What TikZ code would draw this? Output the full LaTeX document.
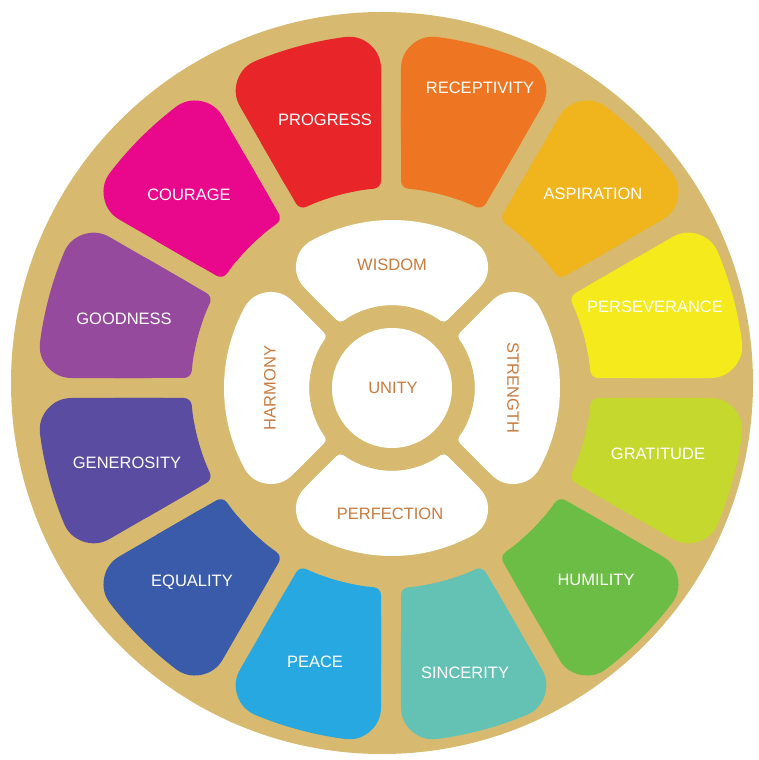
\documentclass[tikz,border=0pt]{standalone}
\usepackage{fontspec}
\setmainfont{Liberation Sans}
\definecolor{gold}{HTML}{D7BA6F}
\definecolor{innertxt}{HTML}{C97B3F}
\definecolor{cProg}{HTML}{E8262A}
\definecolor{cRece}{HTML}{EE7623}
\definecolor{cAspi}{HTML}{F0B41C}
\definecolor{cPers}{HTML}{F4EA1C}
\definecolor{cGrat}{HTML}{C4D82E}
\definecolor{cHumi}{HTML}{6CBD45}
\definecolor{cSinc}{HTML}{63C2B4}
\definecolor{cPeac}{HTML}{27A8E0}
\definecolor{cEqua}{HTML}{3A5BA9}
\definecolor{cGene}{HTML}{5A4CA0}
\definecolor{cGood}{HTML}{954A9D}
\definecolor{cCour}{HTML}{E9088B}
% one opening of an annular sector: angle, half-span, rin, rout, half-gap, rounding, colour
\newcommand\rsbody[7]{%
  \pgfmathsetmacro\rsRi{#3+#6}%
  \pgfmathsetmacro\rsRo{#4-#6}%
  \pgfmathsetmacro\rsD{#5+#6}%
  \pgfmathsetmacro\rsAi{#1-#2+asin(\rsD/\rsRi)}%
  \pgfmathsetmacro\rsAii{#1+#2-asin(\rsD/\rsRi)}%
  \pgfmathsetmacro\rsAo{#1-#2+asin(\rsD/\rsRo)}%
  \pgfmathsetmacro\rsAoo{#1+#2-asin(\rsD/\rsRo)}%
  \pgfmathsetmacro\rsLW{2*#6}%
  \filldraw[#7, line width=\rsLW pt, line join=round]
    (\rsAi:\rsRi pt) -- (\rsAo:\rsRo pt)
    arc[start angle=\rsAo, end angle=\rsAoo, radius=\rsRo pt]
    -- (\rsAii:\rsRi pt)
    arc[start angle=\rsAii, end angle=\rsAi, radius=\rsRi pt] -- cycle;
}
% angle, half-span, rin, rout, half-gap, big rounding (outer), small rounding (inner), colour
\newcommand\roundsector[8]{%
  \rsbody{#1}{#2}{#3}{#4}{#5}{#6}{#8}%
  \begin{scope}
    \pgfmathsetmacro\rsMid{(#3+#4)/2}%
    \clip (0,0) circle[radius=\rsMid pt];
    \rsbody{#1}{#2}{#3}{#4}{#5}{#7}{#8}%
  \end{scope}
}
\tikzset{
  outerlbl/.style={text=white, font=\fontsize{16.5}{18}\selectfont, inner sep=0pt},
  innerlbl/.style={text=innertxt, font=\fontsize{16.5}{18}\selectfont, inner sep=0pt}
}
\begin{document}
\begin{tikzpicture}[x=1pt,y=1pt]
\useasboundingbox (0,0) rectangle (759,760);
\fill[white] (0,0) rectangle (759,760);
% outer gold disc
\fill[gold] (382,377) circle[radius=371pt];
% coloured segments
\begin{scope}[shift={(391,372)}]
\foreach \a/\c in {105/cProg,75/cRece,45/cAspi,15/cPers,-15/cGrat,-45/cHumi,
  -75/cSinc,-105/cPeac,-135/cEqua,-165/cGene,165/cGood,135/cCour}{
  \roundsector{\a}{15}{200}{354}{10}{32}{8}{\c}
}
\end{scope}
% petals and centre
\begin{scope}[shift={(392,372)}]
\foreach \a in {90,0,180,270}{
  \roundsector{\a}{45}{83}{168}{9}{30}{5}{white}
}
\fill[white] (0,0) circle[radius=60pt];
\end{scope}
% outer labels
\foreach \t/\x/\y in {PROGRESS/325/120, RECEPTIVITY/480/88, ASPIRATION/593/194,
  PERSEVERANCE/655/307, GRATITUDE/658/454, HUMILITY/596/580, SINCERITY/465/673,
  PEACE/315/662, EQUALITY/192/582, GENEROSITY/127/463, GOODNESS/124/319, COURAGE/189/195}{
  \node[outerlbl] (l\t) at (\x,760-\y) {\t};
}
% inner labels
\node[innerlbl] (wisdom) at (392,760-265) {WISDOM};
\node[innerlbl, rotate=-90] (strength) at (513,760-388) {STRENGTH};
\node[innerlbl] (perfection) at (390,760-514) {PERFECTION};
\node[innerlbl, rotate=90] (harmony) at (270,760-388) {HARMONY};
\node[innerlbl] (unity) at (393,760-388) {UNITY};
\end{tikzpicture}
\end{document}
